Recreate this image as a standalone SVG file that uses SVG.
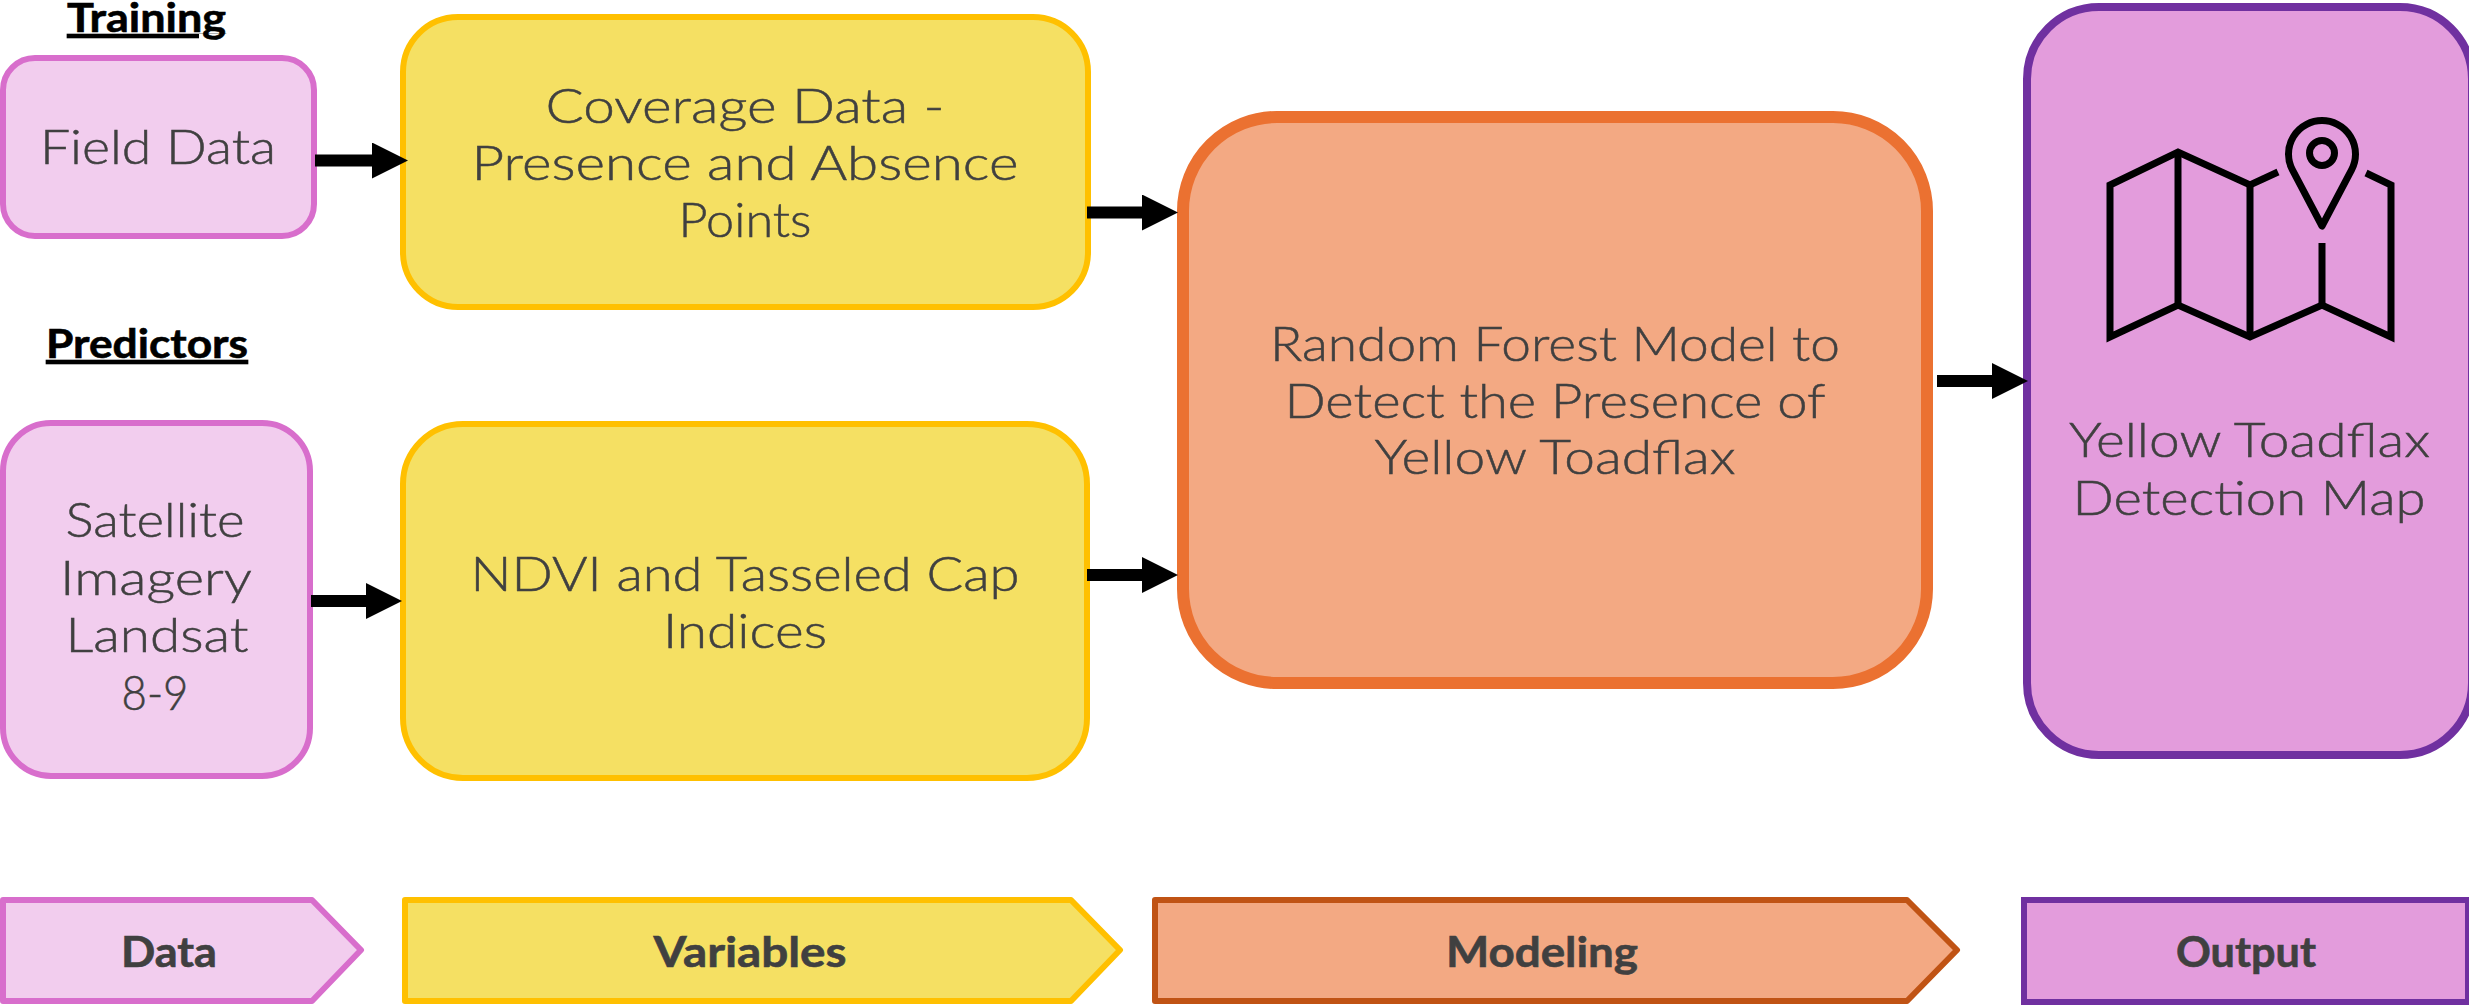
<svg xmlns="http://www.w3.org/2000/svg" width="2469" height="1005" viewBox="0 0 2469 1005">
<style>
text{font-family:"Lato","Liberation Sans",sans-serif;text-anchor:middle;fill:#404040}
.b{font-size:48px;font-weight:300;stroke:#404040;stroke-width:.5}
.t{font-size:42px;font-weight:700;stroke:#404040;stroke-width:.6}
.h{font-size:40px;font-weight:700;fill:#000;stroke:#000;stroke-width:.6;text-decoration:underline}
.d{fill:#f2cdee;stroke:#d86ecc;stroke-width:6}
.v{fill:#f5e063;stroke:#ffc000;stroke-width:6}
.m{fill:#f3a983;stroke:#eb7131;stroke-width:12}
.o{fill:#e39cdc;stroke:#7030a0;stroke-width:8}
.l{stroke-linejoin:round}
.a{stroke:#000;stroke-width:12;fill:none;marker-end:url(#ah)}
.i{fill:none;stroke:#000;stroke-width:7}
</style>
<defs><marker id="ah" markerUnits="userSpaceOnUse" markerWidth="36" markerHeight="36" refX="0" refY="18" orient="auto" viewBox="0 0 36 36"><path d="M0 0L36 18L0 36Z" fill="#000"/></marker></defs>
<g id="label-training"><text class="h" x="146.500" y="32" textLength="159" lengthAdjust="spacingAndGlyphs">Training</text></g>
<g id="label-predictors"><text class="h" x="147" y="358" textLength="202" lengthAdjust="spacingAndGlyphs">Predictors</text></g>
<g id="field-data"><rect class="d" x="3" y="58" width="311" height="178" rx="32"/><text class="b" x="158" y="164" textLength="236" lengthAdjust="spacingAndGlyphs">Field Data</text></g>
<g id="coverage"><rect class="v" x="403" y="17" width="685" height="290" rx="55"/><text class="b" x="745" y="123" textLength="399" lengthAdjust="spacingAndGlyphs">Coverage Data -</text><text class="b" x="745" y="180" textLength="547" lengthAdjust="spacingAndGlyphs">Presence and Absence</text><text class="b" x="745" y="237" textLength="133" lengthAdjust="spacingAndGlyphs">Points</text></g>
<g id="satellite"><rect class="d" x="3" y="423" width="307" height="353" rx="48"/><text class="b" x="155" y="537" textLength="179" lengthAdjust="spacingAndGlyphs">Satellite</text><text class="b" x="156" y="595" textLength="192" lengthAdjust="spacingAndGlyphs">Imagery</text><text class="b" x="157" y="652" textLength="183" lengthAdjust="spacingAndGlyphs">Landsat</text><text class="b" x="155" y="710" textLength="67" lengthAdjust="spacingAndGlyphs">8-9</text></g>
<g id="ndvi"><rect class="v" x="403" y="424" width="684" height="354" rx="60"/><text class="b" x="745" y="591" textLength="549" lengthAdjust="spacingAndGlyphs">NDVI and Tasseled Cap</text><text class="b" x="745" y="648" textLength="164" lengthAdjust="spacingAndGlyphs">Indices</text></g>
<g id="model"><rect class="m" x="1183" y="117" width="744" height="566" rx="94"/><text class="b" x="1555" y="361" textLength="570" lengthAdjust="spacingAndGlyphs">Random Forest Model to</text><text class="b" x="1555" y="418" textLength="541" lengthAdjust="spacingAndGlyphs">Detect the Presence of</text><text class="b" x="1555" y="474" textLength="361" lengthAdjust="spacingAndGlyphs">Yellow Toadflax</text></g>
<g id="output"><rect class="o" x="2027" y="7" width="445" height="748" rx="72"/>
<g id="map-icon"><path class="i" d="M2278 172L2250 185L2178 152L2110 185V337L2178 305L2250 337L2322 305L2391 337V185L2366 173"/><path class="i" d="M2178 152V305M2250 337V185M2322 305V243"/><path class="i" stroke-linejoin="round" d="M2322 226L2292.300 169.600A33.500 33.500 0 1 1 2351.700 169.600Z"/><circle class="i" cx="2322" cy="153" r="12.500"/></g>
<text class="b" x="2249.500" y="457" textLength="361" lengthAdjust="spacingAndGlyphs">Yellow Toadflax</text><text class="b" x="2249" y="515" textLength="353" lengthAdjust="spacingAndGlyphs">Detection Map</text></g>
<g id="legend-data"><path class="d l" d="M3 900H312L361 950L312 1001H3Z"/><text class="t" x="169" y="967" textLength="96" lengthAdjust="spacingAndGlyphs">Data</text></g>
<g id="legend-variables"><path class="v l" d="M405 900H1071L1120 950L1071 1001H405Z"/><text class="t" x="750" y="967" textLength="193" lengthAdjust="spacingAndGlyphs">Variables</text></g>
<g id="legend-modeling"><path class="l" d="M1155 900H1907L1957 950L1907 1001H1155Z" fill="#f3a983" stroke="#c05314" stroke-width="6"/><text class="t" x="1542" y="967" textLength="192" lengthAdjust="spacingAndGlyphs">Modeling</text></g>
<g id="legend-output"><rect x="2024" y="900" width="444" height="102" fill="#e39cdc" stroke="#7030a0" stroke-width="6"/><text class="t" x="2246" y="967" textLength="140" lengthAdjust="spacingAndGlyphs">Output</text></g>
<g id="connectors">
<path class="a" d="M315 160.500H372"/><path class="a" d="M1087 212.500H1142"/><path class="a" d="M311 601H366"/><path class="a" d="M1087 575H1142"/><path class="a" d="M1937 381H1992"/>
</g>
</svg>
